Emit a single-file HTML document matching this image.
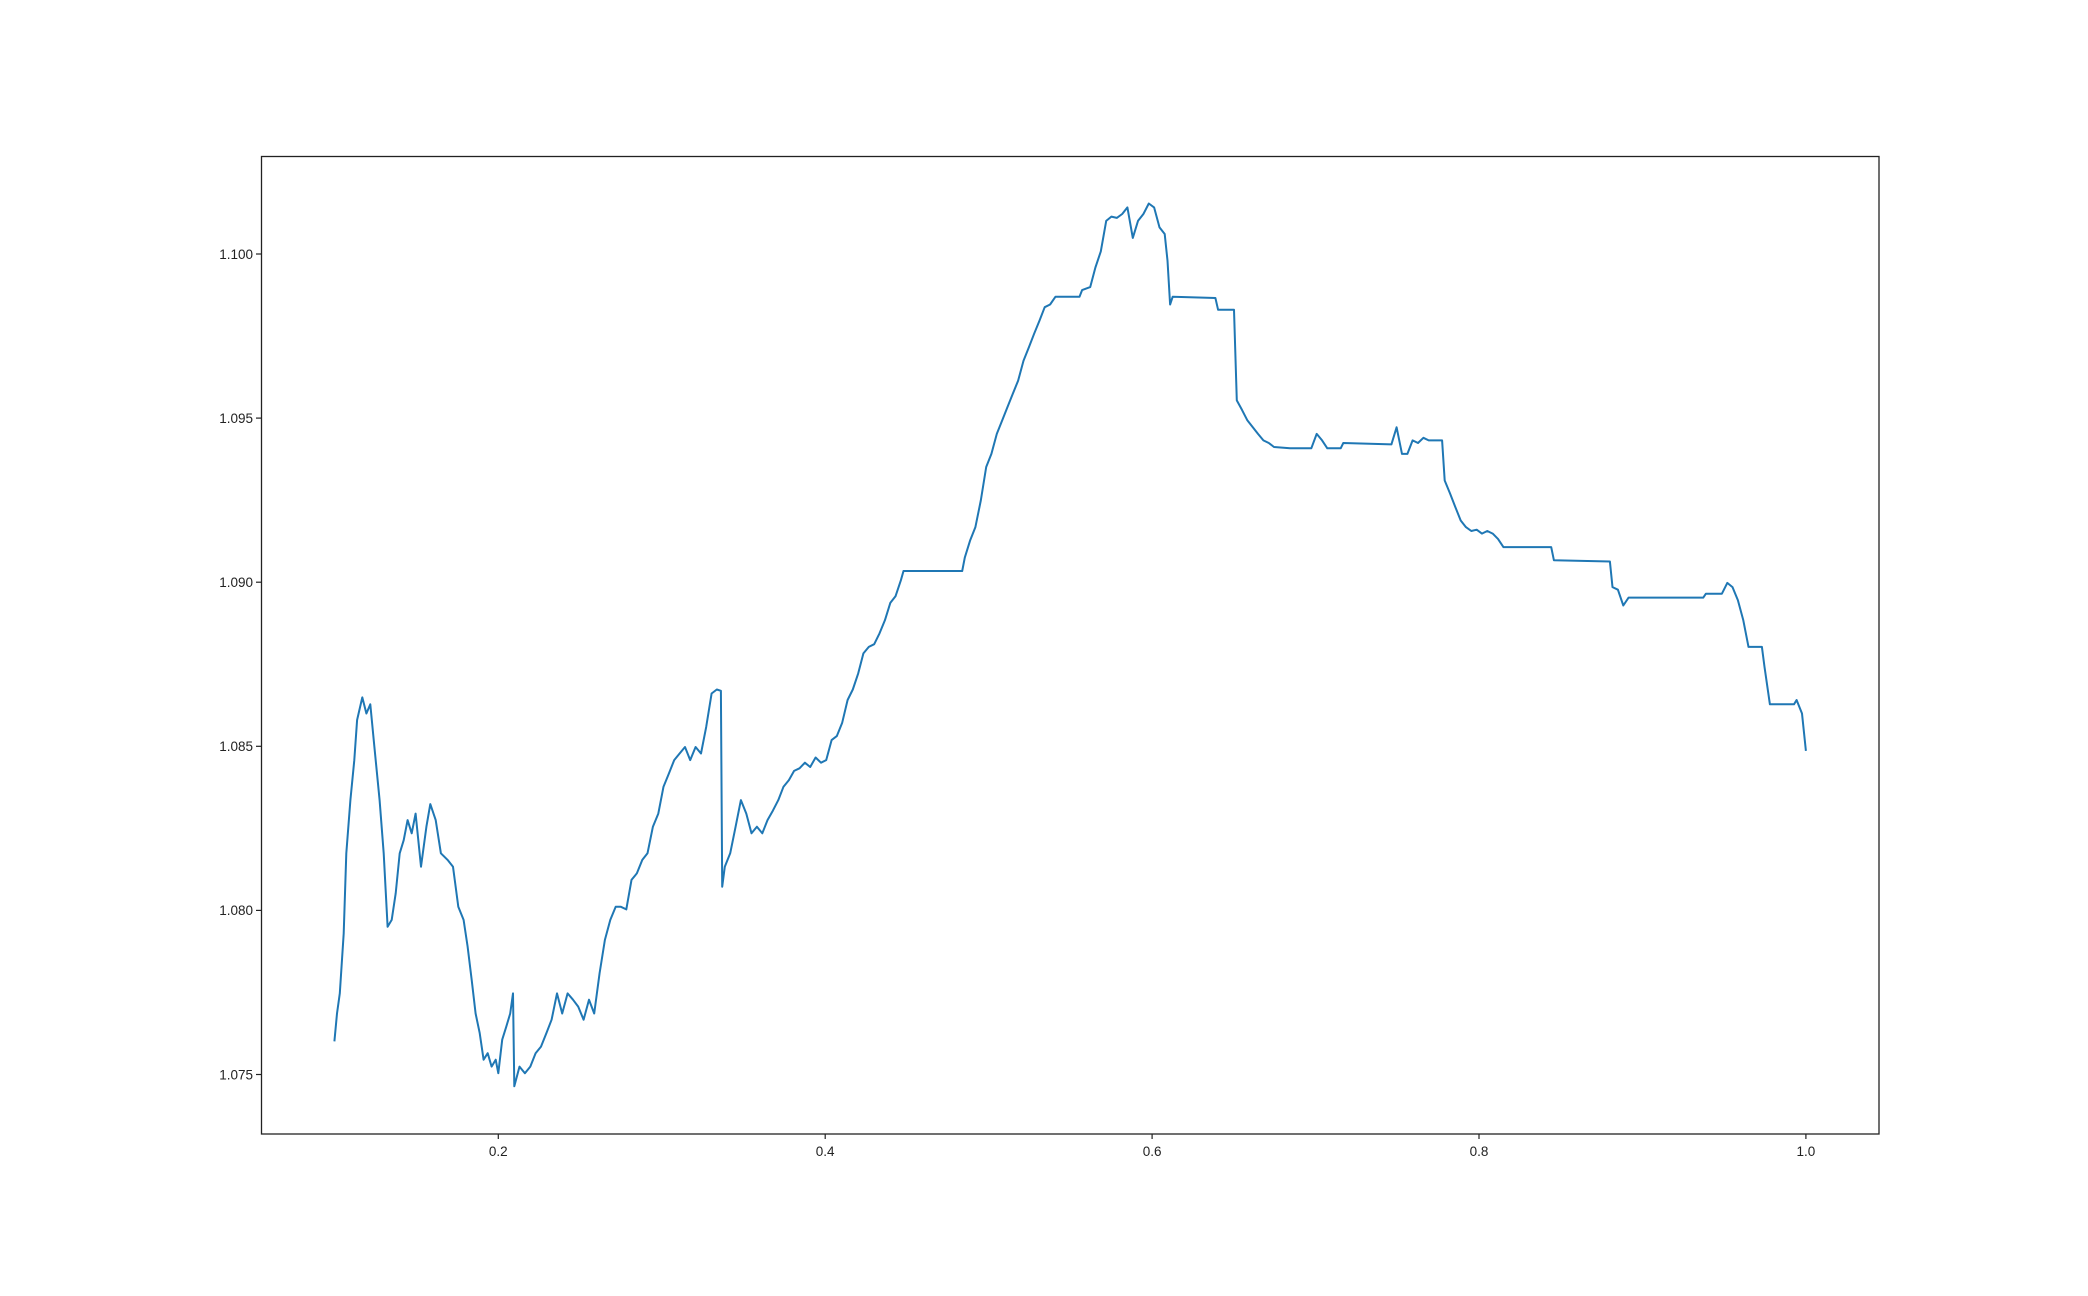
<!DOCTYPE html>
<html><head><meta charset="utf-8"><style>
html,body{margin:0;padding:0;background:#fff;}
svg{display:block;font-family:"Liberation Sans","DejaVu Sans",sans-serif;}
</style></head>
<body>
<svg id="chart" width="2088" height="1296" viewBox="0 0 2088 1296" xmlns="http://www.w3.org/2000/svg">
<rect width="2088" height="1296" fill="#fff"/>
<g id="ticks"></g>
<path id="series" fill="none" stroke="#1f77b4" stroke-width="2" stroke-linejoin="round"/>
<rect x="261.5" y="156.5" width="1617.5" height="977.5" fill="none" stroke="#222" stroke-width="1.3"/>
</svg>
<script>
const xTicks=[0.2,0.4,0.6,0.8,1.0];
const xTickLabels=["0.2","0.4","0.6","0.8","1.0"];
const yTicks=[1.075,1.080,1.085,1.090,1.095,1.100];
const yTickLabels=["1.075","1.080","1.085","1.090","1.095","1.100"];
const xs=[0.0997,0.1013,0.1030,0.1054,0.1070,0.1095,0.1119,0.1136,0.1168,0.1193,0.1217,0.1242,0.1274,0.1299,0.1323,0.1348,0.1372,0.1397,0.1421,0.1445,0.1470,0.1494,0.1527,0.1560,0.1584,0.1617,0.1649,0.1690,0.1723,0.1755,0.1788,0.1812,0.1837,0.1861,0.1886,0.1910,0.1935,0.1959,0.1984,0.2000,0.2024,0.2049,0.2073,0.2090,0.2098,0.2130,0.2163,0.2196,0.2228,0.2261,0.2294,0.2326,0.2359,0.2391,0.2424,0.2457,0.2489,0.2522,0.2555,0.2587,0.2620,0.2652,0.2685,0.2718,0.2750,0.2783,0.2815,0.2848,0.2881,0.2913,0.2946,0.2979,0.3011,0.3044,0.3076,0.3109,0.3142,0.3174,0.3207,0.3240,0.3272,0.3305,0.3337,0.3362,0.3370,0.3386,0.3419,0.3452,0.3484,0.3517,0.3549,0.3582,0.3615,0.3647,0.3680,0.3713,0.3745,0.3778,0.3810,0.3843,0.3876,0.3908,0.3941,0.3974,0.4006,0.4039,0.4071,0.4104,0.4137,0.4169,0.4202,0.4234,0.4267,0.4300,0.4332,0.4365,0.4398,0.4430,0.4463,0.4479,0.4838,0.4854,0.4887,0.4919,0.4952,0.4985,0.5017,0.5050,0.5083,0.5115,0.5148,0.5180,0.5213,0.5246,0.5278,0.5311,0.5343,0.5376,0.5409,0.5556,0.5572,0.5621,0.5653,0.5686,0.5719,0.5751,0.5784,0.5817,0.5849,0.5882,0.5914,0.5947,0.5980,0.6012,0.6045,0.6077,0.6094,0.6110,0.6126,0.6387,0.6404,0.6501,0.6518,0.6550,0.6583,0.6616,0.6648,0.6681,0.6714,0.6746,0.6844,0.6974,0.7007,0.7040,0.7072,0.7154,0.7170,0.7464,0.7496,0.7529,0.7562,0.7594,0.7627,0.7660,0.7692,0.7774,0.7790,0.7823,0.7855,0.7888,0.7920,0.7953,0.7986,0.8018,0.8051,0.8084,0.8116,0.8149,0.8442,0.8458,0.8801,0.8817,0.8850,0.8883,0.8915,0.9372,0.9388,0.9486,0.9519,0.9551,0.9584,0.9617,0.9649,0.9731,0.9747,0.9780,0.9927,0.9943,0.9976,1.0];
const ys=[1.07601,1.07686,1.07747,1.0793,1.08174,1.08336,1.08458,1.0858,1.08649,1.086,1.08628,1.08498,1.08336,1.08174,1.0795,1.07971,1.08052,1.08174,1.08214,1.08275,1.08235,1.08295,1.08133,1.08255,1.08324,1.08275,1.08174,1.08154,1.08133,1.08011,1.07971,1.0789,1.07788,1.07686,1.07626,1.07545,1.07565,1.07524,1.07545,1.07504,1.07606,1.07646,1.07686,1.07747,1.07464,1.07524,1.07504,1.07524,1.07565,1.07585,1.07626,1.07667,1.07747,1.07686,1.07747,1.07728,1.07707,1.07667,1.07728,1.07686,1.07809,1.0791,1.07971,1.08011,1.08011,1.08003,1.08093,1.08113,1.08154,1.08174,1.08255,1.08295,1.08377,1.08417,1.08458,1.08478,1.08498,1.08458,1.08498,1.08478,1.08559,1.08661,1.08673,1.08669,1.08072,1.08133,1.08174,1.08255,1.08336,1.08295,1.08235,1.08255,1.08235,1.08275,1.08304,1.08336,1.08377,1.08397,1.08425,1.08433,1.0845,1.08437,1.08466,1.0845,1.08458,1.08519,1.08531,1.08572,1.08641,1.08673,1.08722,1.08783,1.08803,1.08811,1.08844,1.08884,1.08937,1.08957,1.09006,1.09034,1.09034,1.09075,1.09128,1.09168,1.09249,1.09351,1.09391,1.09452,1.09493,1.09533,1.09574,1.09614,1.09675,1.09716,1.09757,1.09797,1.09838,1.09846,1.0987,1.0987,1.0989,1.09899,1.09959,1.10008,1.10101,1.10114,1.1011,1.10122,1.10142,1.10049,1.10101,1.10122,1.10154,1.10142,1.10081,1.10061,1.0998,1.09846,1.0987,1.09866,1.0983,1.0983,1.09554,1.09525,1.09493,1.09472,1.09452,1.09432,1.09424,1.09412,1.09408,1.09408,1.09452,1.09432,1.09408,1.09408,1.09424,1.0942,1.09472,1.09391,1.09391,1.09432,1.09424,1.0944,1.09432,1.09432,1.0931,1.0927,1.09229,1.09188,1.09168,1.09156,1.0916,1.09148,1.09156,1.09148,1.09132,1.09107,1.09107,1.09067,1.09063,1.08985,1.08977,1.08929,1.08953,1.08953,1.08965,1.08965,1.08998,1.08985,1.08945,1.08884,1.08803,1.08803,1.08742,1.08628,1.08628,1.08641,1.086,1.08486];

function xPix(v){return 498.3+(v-0.2)/0.2*326.9;}
function yPix(v){return 254+(1.1-v)/0.005*164.1;}

const NS="http://www.w3.org/2000/svg";
const tg=document.getElementById('ticks');
xTicks.forEach((t,i)=>{
  const x=xPix(t);
  const l=document.createElementNS(NS,'line');
  l.setAttribute('x1',x);l.setAttribute('x2',x);l.setAttribute('y1',1134);l.setAttribute('y2',1139);
  l.setAttribute('stroke','#222');l.setAttribute('stroke-width','1.2');
  
  
  tg.appendChild(l);
  const tx=document.createElementNS(NS,'text');
  tx.setAttribute('x',x);tx.setAttribute('y',1156);tx.setAttribute('text-anchor','middle');
  tx.setAttribute('font-size','13.5');tx.setAttribute('fill','#222');
  tx.textContent=xTickLabels[i];
  
  
  tg.appendChild(tx);
});
yTicks.forEach((t,i)=>{
  const y=yPix(t);
  const l=document.createElementNS(NS,'line');
  l.setAttribute('x1',256);l.setAttribute('x2',261.5);l.setAttribute('y1',y);l.setAttribute('y2',y);
  l.setAttribute('stroke','#222');l.setAttribute('stroke-width','1.2');
  
  
  tg.appendChild(l);
  const tx=document.createElementNS(NS,'text');
  tx.setAttribute('x',253);tx.setAttribute('y',y+4.8);tx.setAttribute('text-anchor','end');
  tx.setAttribute('font-size','13.5');tx.setAttribute('fill','#222');
  tx.textContent=yTickLabels[i];
  
  
  tg.appendChild(tx);
});
let d='';
xs.forEach((x,i)=>{d+=(i?'L':'M')+xPix(x).toFixed(1)+' '+yPix(ys[i]).toFixed(1);});
document.getElementById('series').setAttribute('d',d);
</script>
</body></html>
